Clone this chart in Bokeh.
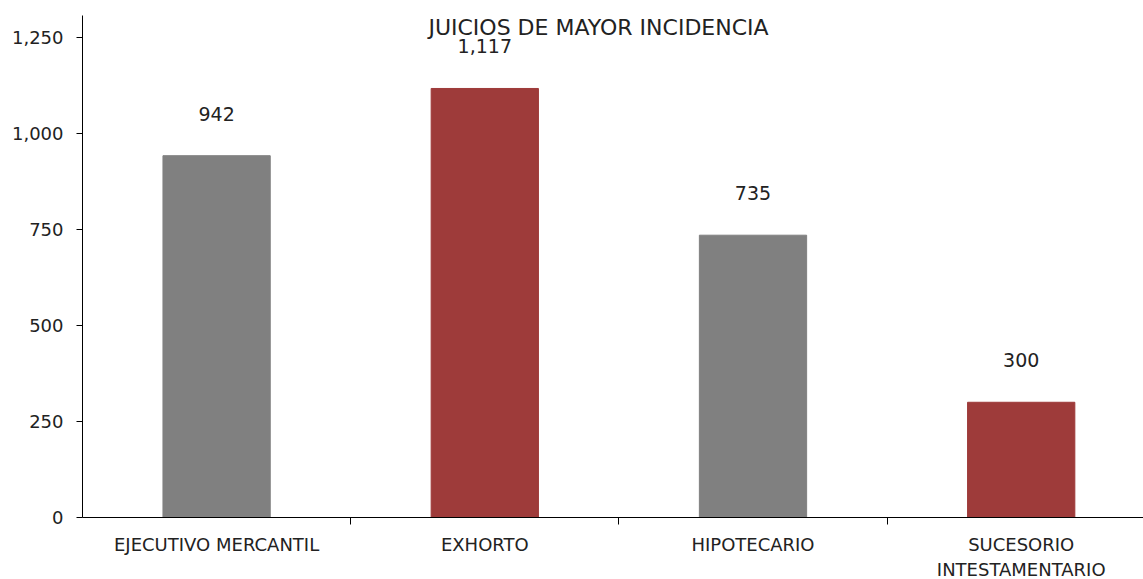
from bokeh.plotting import figure
from bokeh.models import Range1d, FixedTicker, ColumnDataSource, Label
from bokeh.embed import file_html
from bokeh.resources import INLINE
from bokeh.core.properties import value

categories = ["EJECUTIVO MERCANTIL", "EXHORTO", "HIPOTECARIO", "SUCESORIO\nINTESTAMENTARIO"]
values = [942, 1117, 735, 300]
colors = ["#808080", "#9E3B3A", "#808080", "#9E3B3A"]
value_labels = ["942", "1,117", "735", "300"]
y_ticks = [0, 250, 500, 750, 1000, 1250]
y_tick_labels = ["0", "250", "500", "750", "1,000", "1,250"]

FONT = "DejaVu Sans"
TXT = "#222222"

p = figure(frame_width=1061, frame_height=502, output_backend="svg", toolbar_location=None,
           x_range=Range1d(0, 3.956), y_range=Range1d(0, 1307),
           min_border_left=82, min_border_right=0, min_border_top=15, min_border_bottom=40)
p.outline_line_color = None
p.xgrid.visible = False
p.ygrid.visible = False

centers = [i + 0.5 for i in range(len(categories))]
src = ColumnDataSource(dict(x=centers, top=values, color=colors, lab=value_labels))
p.vbar(x="x", top="top", width=0.4, color="color", source=src)
p.text(x="x", y="top", text="lab", source=src, text_align="center", text_baseline="middle",
       y_offset=-42, text_font=value(FONT), text_font_size="19px", text_color=TXT)

# x axis
xa = p.xaxis[0]
xa.ticker = FixedTicker(ticks=centers, minor_ticks=[1, 2, 3])
xa.major_label_overrides = {c: lab for c, lab in zip(centers, categories)}
xa.major_tick_out = 0
xa.major_tick_in = 0
xa.minor_tick_out = 7
xa.minor_tick_in = 0
xa.minor_tick_line_color = "black"
xa.axis_line_color = "black"
xa.major_label_standoff = 9
xa.major_label_text_font = FONT
xa.major_label_text_font_size = "18px"
xa.major_label_text_color = TXT

# y axis
ya = p.yaxis[0]
ya.ticker = FixedTicker(ticks=y_ticks, minor_ticks=[])
ya.major_label_overrides = {t: l for t, l in zip(y_ticks, y_tick_labels)}
ya.major_tick_out = 6
ya.major_tick_in = 0
ya.minor_tick_out = 0
ya.minor_tick_in = 0
ya.axis_line_color = "black"
ya.major_tick_line_color = "black"
ya.major_label_standoff = 13
ya.major_label_text_font = FONT
ya.major_label_text_font_size = "18px"
ya.major_label_text_color = TXT

title = Label(x=516, y=490, x_units="screen", y_units="screen", text="JUICIOS DE MAYOR INCIDENCIA",
              text_align="center", text_baseline="middle", text_font=FONT,
              text_font_size="22px", text_color=TXT)
p.add_layout(title)

open("out.html", "w").write(file_html(p, INLINE))
